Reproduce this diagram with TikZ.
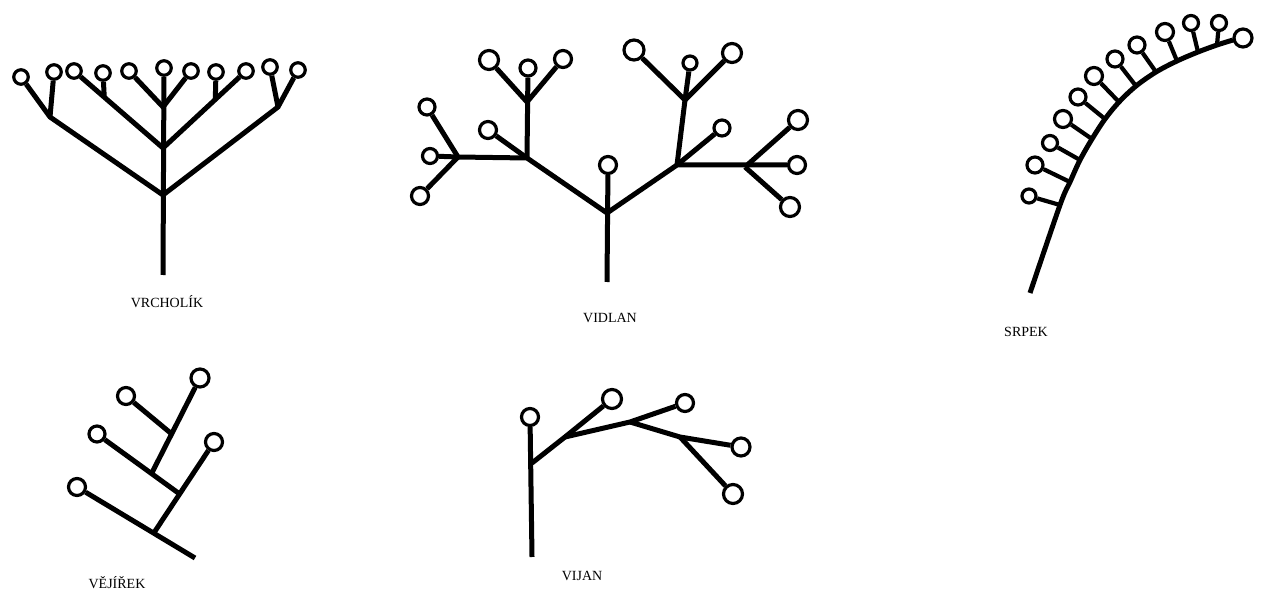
\documentclass[tikz,border=0pt]{standalone}
\usepackage{fontspec}
\setmainfont{Liberation Serif}
\usetikzlibrary{calc}
\begin{document}
\begin{tikzpicture}[x=1pt,y=-1pt,
  fl/.style={circle,draw,line width=3.2pt,inner sep=0pt,minimum size=#1},
  fl/.default=14.5pt,
  stem/.style={line width=5pt},
  twig/.style={line width=4.2pt},
  lbl/.style={anchor=base,inner sep=0pt,font=\fontsize{14}{16}\selectfont}]
\useasboundingbox (0,0) rectangle (1263,593);

% ---------------- VRCHOLIK ----------------
\node[fl] (v1) at (21,77) {};
\node[fl] (v2) at (54,72) {};
\node[fl] (v3) at (74,71) {};
\node[fl] (v4) at (103,73) {};
\node[fl] (v5) at (129,71) {};
\node[fl] (v6) at (164,68) {};
\node[fl] (v7) at (191,71) {};
\node[fl] (v8) at (216,72) {};
\node[fl] (v9) at (246,71) {};
\node[fl] (v10) at (270,67) {};
\node[fl] (v11) at (298,70) {};
\coordinate (vb) at (163,275);
\coordinate (vj1) at (163,195);
\coordinate (vj2) at (163,148);
\coordinate (vj3) at (163,107);
\coordinate (vL) at (50,117);
\coordinate (vR) at (278,107);
\coordinate (vs1) at ($(vj2)!0.66!(v3)$);
\coordinate (vs2) at ($(vj2)!0.63!(v9)$);
\draw[stem] (vb) -- (v6);
\draw[stem] (v1) -- (vL) -- (vj1) -- (vR) -- (v11);
\draw[stem] (vL) -- (v2);
\draw[stem] (vR) -- (v10);
\draw[stem] (v3) -- (vj2) -- (v9);
\draw[stem] (v5) -- (vj3) -- (v7);
\draw[stem] (v4) -- (vs1);
\draw[stem] (v8) -- (vs2);
\node[lbl] (tv) at (167,308) {VRCHOLÍK};

% ---------------- VIDLAN ----------------
\node[fl=17pt] (d0) at (608,165) {};
\node[fl=19pt] (d1) at (489,60) {};
\node[fl=16pt] (d2) at (528,68) {};
\node[fl=17pt] (d3) at (563,59) {};
\node[fl=17pt] (d4) at (488,130) {};
\node[fl=16pt] (d5) at (427,107) {};
\node[fl=15pt] (d6) at (430,156) {};
\node[fl=17pt] (d7) at (420,196) {};
\node[fl=20pt] (d8) at (634,50) {};
\node[fl=14pt] (d9) at (690,63) {};
\node[fl=19pt] (d10) at (732,53) {};
\node[fl=16pt] (d11) at (722,128) {};
\node[fl=19pt] (d12) at (798,120) {};
\node[fl=17pt] (d13) at (797,165) {};
\node[fl=19pt] (d14) at (790,207) {};
\coordinate (db) at (607,282);
\coordinate (dj) at (607,213);
\coordinate (dL) at (527,158);
\coordinate (dR) at (677,165);
\coordinate (dLu) at (527,102);
\coordinate (dLL) at (458,157);
\coordinate (dRu) at (685,100);
\coordinate (dRR) at (745,167);
\draw[stem] (db) -- (d0);
\draw[stem] (dLL) -- (dL) -- (dj) -- (dR) -- (d13);
\draw[stem] (dL) -- (d2);
\draw[stem] (dLu) -- (d1);
\draw[stem] (dLu) -- (d3);
\draw[stem] (dL) -- (d4);
\draw[stem] (dLL) -- (d5);
\draw[stem] (dLL) -- (d6);
\draw[stem] (dLL) -- (d7);
\draw[stem] (dR) -- (dRu) -- (d9);
\draw[stem] (dRu) -- (d8);
\draw[stem] (dRu) -- (d10);
\draw[stem] (dR) -- (d11);
\draw[stem] (dRR) -- (d12);
\draw[stem] (dRR) -- (d14);
\node[lbl] (td) at (610,323) {VIDLAN};

% ---------------- SRPEK ----------------
\node[fl=14pt] (s1) at (1029,196) {};
\node[fl=16pt] (s2) at (1035,165) {};
\node[fl=15pt] (s3) at (1050,143) {};
\node[fl=17pt] (s4) at (1063,119) {};
\node[fl=16pt] (s5) at (1078,97) {};
\node[fl=17pt] (s6) at (1094,76) {};
\node[fl=16pt] (s7) at (1115,59) {};
\node[fl=16pt] (s8) at (1137,45) {};
\node[fl=17pt] (s9) at (1165,32) {};
\node[fl=15pt] (s10) at (1191,23) {};
\node[fl=15pt] (s11) at (1219,23) {};
\node[fl=18pt] (s12) at (1243,38) {};
\coordinate (sb0) at (1030,293);
\coordinate (sb1) at (1060,205);
\coordinate (sb2) at (1070,182);
\coordinate (sb3) at (1080,160);
\coordinate (sb4) at (1092,139);
\coordinate (sb5) at (1105,119);
\coordinate (sb6) at (1119,102);
\coordinate (sb7) at (1136,86);
\coordinate (sb8) at (1156,72);
\coordinate (sb9) at (1177,61);
\coordinate (sb10) at (1198,52);
\coordinate (sb11) at (1217,45);
\coordinate (sbe) at (1233,40);
\draw[stem] plot[smooth,tension=0.55] coordinates {(sb0) (sb1) (sb2) (sb3) (sb4) (sb5) (sb6) (sb7) (sb8) (sb9) (sb10) (sb11) (sbe)};
\foreach \i in {1,...,11} {\draw[twig] (sb\i) -- (s\i);}
\node[lbl] (ts) at (1026,337) {SRPEK};

% ---------------- VEJIREK ----------------
\node[fl=17pt] (e1) at (77,487) {};
\node[fl=16pt] (e2) at (97,434) {};
\node[fl=17pt] (e3) at (126,396) {};
\node[fl=18pt] (e4) at (200,378) {};
\node[fl=17pt] (e5) at (214,442) {};
\coordinate (ee) at (195,558);
\coordinate (J1) at ($(e1)!0.65!(ee)$);
\coordinate (J2) at ($(J1)!0.43!(e5)$);
\coordinate (J3) at ($(e2)!0.66!(J2)$);
\coordinate (J4) at ($(J3)!0.415!(e4)$);
\draw[stem] (e1) -- (ee);
\draw[stem] (J1) -- (e5);
\draw[stem] (e2) -- (J2);
\draw[stem] (J3) -- (e4);
\draw[stem] (e3) -- (J4);
\node[lbl] (te) at (117,588) {VĚJÍŘEK};

% ---------------- VIJAN ----------------
\node[fl=17pt] (i1) at (530,417) {};
\node[fl=19pt] (i2) at (612,399) {};
\node[fl=17pt] (i3) at (685,403) {};
\node[fl=18pt] (i4) at (741,447) {};
\node[fl=19pt] (i5) at (733,494) {};
\coordinate (ib) at (532,557);
\coordinate (ij) at (532,463);
\coordinate (k1) at (565,437);
\coordinate (k2) at (630,422);
\coordinate (k3) at (680,437);
\draw[stem] (ib) -- (i1);
\draw[stem] (ij) -- (k1) -- (i2);
\draw[stem] (k1) -- (k2) -- (i3);
\draw[stem] (k2) -- (k3) -- (i4);
\draw[stem] (k3) -- (i5);
\node[lbl] (ti) at (582,580) {VIJAN};
\end{tikzpicture}
\end{document}
